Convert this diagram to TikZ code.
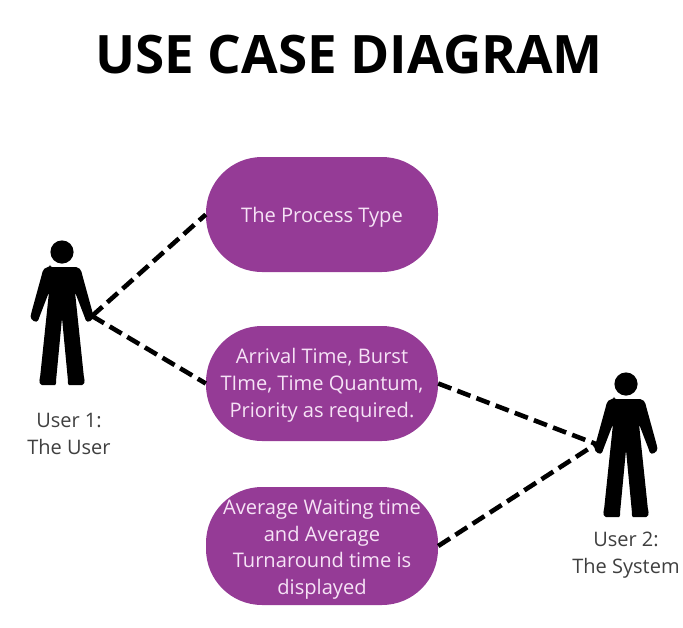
\documentclass[tikz,border=0pt]{standalone}
\usepackage{fontspec}
\setmainfont{Open Sans}
\definecolor{ucpurple}{HTML}{953B96}
\definecolor{uctext}{HTML}{F6E3F6}
\definecolor{lbl}{HTML}{3F3F3F}
\newcommand\ucdown[1]{\rule{0pt}{#1}}
\tikzset{
  x=1pt,y=-1pt,
  usecase/.style={fill=ucpurple,text=uctext,rounded corners=56pt,minimum width=232pt,inner sep=0pt,align=center,font=\fontsize{20.1}{26.6}\selectfont},
  actorlabel/.style={text=lbl,align=center,font=\fontsize{20}{27}\selectfont},
  link/.style={draw=black,line width=4.6pt,dash pattern=on 14pt off 6.5pt},
  person/.pic={
    \fill (62,252) circle (11.6);
    \fill[rounded corners=2.2pt]
      (50,267) -- (74,267) .. controls (79,267) and (81,270) .. (82,274)
      -- (93,314) .. controls (94,320) and (87,324) .. (85,318)
      -- (75,292) -- (84,378) .. controls (85,382) and (84,385) .. (80,385)
      -- (71,385) .. controls (69,385) and (68,384) .. (68,381)
      -- (62,318) -- (56,381) .. controls (56,384) and (55,385) .. (53,385)
      -- (44,385) .. controls (40,385) and (39,382) .. (40,378)
      -- (49,292) -- (39,318) .. controls (37,324) and (30,320) .. (31,314)
      -- (42,274) .. controls (43,270) and (45,267) .. (50,267) -- cycle;
  }
}
\begin{document}
\begin{tikzpicture}
\useasboundingbox (0,0) rectangle (683,627);
\node[font=\bfseries\fontsize{53}{56}\selectfont,text=black] (title) at (349,55) {USE CASE DIAGRAM};
\pic at (0,0) {person};
\pic at (564,132) {person};
\node[usecase,minimum height=115pt] (uc1) at (322,214.5) {\ucdown{21pt}The Process Type};
\node[usecase,minimum height=115pt] (uc2) at (322,383.5) {\ucdown{19pt}Arrival Time, Burst\\TIme, Time Quantum,\\Priority as required.};
\node[usecase,minimum height=118pt] (uc3) at (322,546) {\ucdown{22pt}Average Waiting time\\and Average\\Turnaround time is\\displayed};
\coordinate (user1) at (92,316);
\coordinate (user2) at (596,444);
\draw[link] (user1) -- (uc1.west);
\draw[link] (user1) -- (uc2.west);
\draw[link] (uc2.east) -- (user2);
\draw[link] (uc3.east) -- (user2);
\node[actorlabel] (lab1) at (69,434) {User 1:\\The User};
\node[actorlabel] (lab2) at (626,555) {User 2:\\The System};
\end{tikzpicture}
\end{document}
